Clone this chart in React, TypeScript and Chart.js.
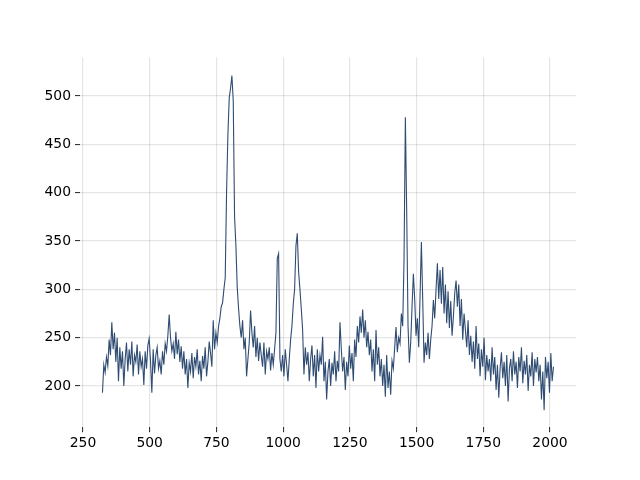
import React, { useEffect, useRef } from "react";
import { Chart, registerables } from "chart.js";

Chart.register(...registerables);

// Raman-like spectrum: wavenumber sampling and intensities
const xStart = 323;
const xStep = 5;
const intensity: number[] = [
  193, 222, 214, 230, 221, 248, 232, 266, 238, 255,
  225, 250, 205, 240, 218, 236, 200, 228, 245, 215,
  238, 222, 246, 210, 232, 225, 243, 212, 236, 220,
  228, 201, 236, 218, 242, 249, 226, 193, 238, 213,
  232, 240, 218, 226, 212, 236, 222, 244, 236, 252,
  274, 250, 236, 244, 228, 256, 233, 248, 225, 241,
  218, 236, 212, 228, 198, 224, 215, 234, 208, 230,
  220, 238, 212, 226, 205, 231, 218, 240, 210, 225,
  246, 234, 220, 268, 238, 255, 245, 262, 270, 282,
  286, 300, 312, 400, 460, 498, 508, 521, 495, 375,
  345, 302, 280, 262, 250, 268, 238, 250, 210, 228,
  245, 278, 255, 240, 262, 230, 250, 226, 245, 232,
  220, 245, 212, 236, 228, 240, 216, 234, 222, 238,
  255, 332, 337, 228, 215, 232, 210, 238, 222, 205,
  228, 248, 262, 285, 300, 345, 358, 318, 300, 280,
  258, 212, 240, 222, 235, 205, 228, 242, 210, 232,
  198, 238, 215, 232, 222, 251, 205, 225, 186, 215,
  228, 200, 224, 212, 236, 205, 226, 215, 266, 238,
  215, 230, 196, 225, 210, 242, 218, 234, 205, 248,
  230, 262, 245, 272, 255, 279, 250, 268, 240, 256,
  232, 248, 215, 238, 205, 258, 222, 240, 210, 228,
  200, 222, 189, 232, 198, 215, 191, 226, 218, 240,
  261, 235, 250, 244, 275, 262, 330, 478, 380, 262,
  224, 245, 282, 316, 290, 252, 270, 240, 292, 349,
  290, 224, 245, 232, 255, 228, 248, 262, 289, 270,
  300, 327, 290, 320, 285, 323, 275, 305, 265, 298,
  260, 288, 252, 272, 296, 309, 282, 305, 262, 290,
  248, 275, 258, 240, 268, 232, 252, 225, 246, 218,
  262, 228, 244, 210, 238, 220, 250, 206, 232, 215,
  228, 205, 240, 212, 230, 196, 222, 188, 218, 235,
  208, 225, 200, 232, 184, 218, 228, 205, 236, 212,
  225, 198, 230, 215, 240, 203, 226, 212, 232, 195,
  222, 210, 235, 200, 228, 214, 230, 205, 222, 186,
  215, 175, 230, 208, 225, 193, 234, 205, 220,
];

const xTickValues = [250, 500, 750, 1000, 1250, 1500, 1750, 2000];
const yTickValues = [200, 250, 300, 350, 400, 450, 500];

const lineColor = "#2f4c72";

export default function App() {
  const canvasRef = useRef<HTMLCanvasElement | null>(null);

  useEffect(() => {
    const canvas = canvasRef.current;
    if (!canvas) return;
    const points = intensity.map((y, i) => ({ x: xStart + i * xStep, y }));
    const tickFont = { family: "DejaVu Sans", size: 13.9 };
    const chart = new Chart(canvas, {
      type: "line",
      data: {
        datasets: [
          {
            data: points,
            borderColor: lineColor,
            borderWidth: 1.1,
            pointRadius: 0,
            tension: 0,
            fill: false,
          },
        ],
      },
      options: {
        animation: false,
        responsive: false,
        maintainAspectRatio: false,
        layout: { padding: { top: 57.6, right: 64, bottom: 0, left: 0 } },
        plugins: {
          legend: { display: false },
          tooltip: { enabled: false },
        },
        scales: {
          x: {
            type: "linear",
            min: 238.8,
            max: 2097.4,
            afterBuildTicks: (s: any) => {
              s.ticks = xTickValues.map((v) => ({ value: v }));
            },
            afterFit: (s: any) => {
              s.height = 52.8;
            },
            border: { display: false },
            grid: {
              color: "rgba(0,0,0,0.1)",
              lineWidth: 1.2,
              tickColor: "#222",
              tickLength: 5,
              tickWidth: 1,
            },
            ticks: {
              color: "#000",
              font: tickFont,
              padding: 3,
              maxRotation: 0,
              autoSkip: false,
              callback: (v: any) => String(v),
            },
          },
          y: {
            type: "linear",
            min: 157.4,
            max: 539.7,
            afterBuildTicks: (s: any) => {
              s.ticks = yTickValues.map((v) => ({ value: v }));
            },
            afterFit: (s: any) => {
              s.width = 80;
            },
            border: { display: false },
            grid: {
              color: "rgba(0,0,0,0.1)",
              lineWidth: 1.2,
              tickColor: "#222",
              tickLength: 5,
              tickWidth: 1,
            },
            ticks: {
              color: "#000",
              font: tickFont,
              padding: 4,
              autoSkip: false,
              callback: (v: any) => String(v),
            },
          },
        },
      },
    });
    return () => chart.destroy();
  }, []);

  return (
    <div
      style={{
        position: "fixed",
        left: 0,
        top: 0,
        width: 640,
        height: 480,
        background: "#fff",
      }}
    >
      <canvas
        ref={canvasRef}
        width={640}
        height={480}
        style={{ display: "block", width: 640, height: 480 }}
      />
    </div>
  );
}
